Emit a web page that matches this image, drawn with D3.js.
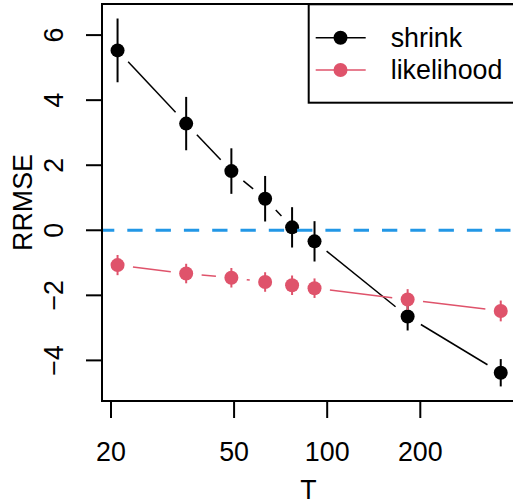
<!DOCTYPE html>
<html>
<head>
<meta charset="utf-8">
<script src="https://cdn.jsdelivr.net/npm/d3@7"></script>
<style>
  body { margin: 0; background: #fff; }
  svg text { font-family: "Liberation Sans", Arial, Helvetica, sans-serif; }
</style>
</head>
<body>
<svg id="chart"></svg>
<script>
const WIDTH = 513, HEIGHT = 504;

// data
const sampleSizes = [21, 35, 49, 63, 77, 91, 182, 364];
const shrinkValues = [5.53, 3.28, 1.82, 0.97, 0.09, -0.34, -2.65, -4.38];
const shrinkErrors = [0.98, 0.82, 0.70, 0.70, 0.62, 0.62, 0.43, 0.42];
const likelihoodValues = [-1.07, -1.33, -1.46, -1.59, -1.69, -1.78, -2.13, -2.48];
const likelihoodErrors = [0.31, 0.30, 0.30, 0.30, 0.30, 0.30, 0.32, 0.32];
const xTicks = [20, 50, 100, 200];
const yTicks = [-4, -2, 0, 2, 4, 6];
const seriesNames = ["shrink", "likelihood"];
const seriesColors = ["#000000", "#DF536B"];

const box = { left: 102, top: 4, right: 515, bottom: 401 };
const fontSize = 26.8;

const svg = d3.select("svg#chart")
    .attr("width", WIDTH)
    .attr("height", HEIGHT);

const x = d3.scaleLog().domain([20, 200]).range([111, 420.3]);
const y = d3.scaleLinear().domain([-4, 6]).range([360.4, 35.1]);

const plot = svg.append("g").attr("id", "plot");

svg.append("clipPath").attr("id", "plotClip")
    .append("rect")
        .attr("x", box.left).attr("y", box.top)
        .attr("width", box.right - box.left)
        .attr("height", box.bottom - box.top);

const series = [
    { name: seriesNames[0], color: seriesColors[0], values: shrinkValues, errors: shrinkErrors },
    { name: seriesNames[1], color: seriesColors[1], values: likelihoodValues, errors: likelihoodErrors },
];

// R type="b" : segments with a gap around each point
const gap = 15.5;
function gappedSegments(vals) {
    const pts = sampleSizes.map((t, i) => [x(t), y(vals[i])]);
    const segs = [];
    for (let i = 0; i < pts.length - 1; i++) {
        const [x0, y0] = pts[i], [x1, y1] = pts[i + 1];
        const len = Math.hypot(x1 - x0, y1 - y0);
        if (len <= 2 * gap) continue;
        const ux = (x1 - x0) / len, uy = (y1 - y0) / len;
        segs.push([x0 + ux * gap, y0 + uy * gap, x1 - ux * gap, y1 - uy * gap]);
    }
    return segs;
}

series.forEach((s) => {
    const g = plot.append("g").attr("class", "series");
    g.selectAll("line.seg")
        .data(gappedSegments(s.values))
        .join("line")
            .attr("class", "seg")
            .attr("x1", (d) => d[0]).attr("y1", (d) => d[1])
            .attr("x2", (d) => d[2]).attr("y2", (d) => d[3])
            .attr("stroke", s.color)
            .attr("stroke-width", 1.5);
    g.selectAll("line.err")
        .data(sampleSizes)
        .join("line")
            .attr("class", "err")
            .attr("x1", (d) => x(d)).attr("x2", (d) => x(d))
            .attr("y1", (d, i) => y(s.values[i] + s.errors[i]))
            .attr("y2", (d, i) => y(s.values[i] - s.errors[i]))
            .attr("stroke", s.color)
            .attr("stroke-width", 2);
    g.selectAll("circle")
        .data(sampleSizes)
        .join("circle")
            .attr("cx", (d) => x(d))
            .attr("cy", (d, i) => y(s.values[i]))
            .attr("r", 7)
            .attr("fill", s.color);
});

// reference line at 0
plot.append("line")
    .attr("clip-path", "url(#plotClip)")
    .attr("x1", box.left).attr("x2", box.right)
    .attr("y1", y(0)).attr("y2", y(0))
    .attr("stroke", "#2297E6")
    .attr("stroke-width", 3)
    .attr("stroke-dasharray", "15.3,13")
    .attr("stroke-dashoffset", 3);

// frame
svg.append("rect")
    .attr("x", box.left).attr("y", box.top)
    .attr("width", box.right - box.left)
    .attr("height", box.bottom - box.top)
    .attr("fill", "none")
    .attr("stroke", "black")
    .attr("stroke-width", 2);

// x axis
const xAxis = svg.append("g").attr("id", "x-axis");
xAxis.selectAll("line")
    .data(xTicks)
    .join("line")
        .attr("x1", (d) => x(d)).attr("x2", (d) => x(d))
        .attr("y1", box.bottom).attr("y2", box.bottom + 17)
        .attr("stroke", "black").attr("stroke-width", 2);
xAxis.selectAll("text")
    .data(xTicks)
    .join("text")
        .attr("x", (d) => x(d))
        .attr("y", 460.5)
        .attr("text-anchor", "middle")
        .attr("font-size", fontSize)
        .text((d) => d);

// y axis
const yAxis = svg.append("g").attr("id", "y-axis");
yAxis.selectAll("line")
    .data(yTicks)
    .join("line")
        .attr("x1", box.left - 16).attr("x2", box.left)
        .attr("y1", (d) => y(d)).attr("y2", (d) => y(d))
        .attr("stroke", "black").attr("stroke-width", 2);
yAxis.selectAll("text")
    .data(yTicks)
    .join("text")
        .attr("transform", (d) => `translate(63.3, ${y(d)}) rotate(-90)`)
        .attr("text-anchor", "middle")
        .attr("font-size", fontSize)
        .text((d) => d < 0 ? "\u2212" + Math.abs(d) : d);

// axis titles
svg.append("text")
    .attr("x", (box.left + box.right) / 2)
    .attr("y", 499)
    .attr("text-anchor", "middle")
    .attr("font-size", fontSize)
    .text("T");
svg.append("text")
    .attr("transform", `translate(32, ${(box.top + box.bottom) / 2}) rotate(-90)`)
    .attr("text-anchor", "middle")
    .attr("font-size", fontSize)
    .text("RRMSE");

// legend
const legend = svg.append("g").attr("id", "legend");
legend.append("rect")
    .attr("x", 308.7).attr("y", 4.3)
    .attr("width", 220).attr("height", 98.4)
    .attr("fill", "white")
    .attr("stroke", "black")
    .attr("stroke-width", 2);
const legendRows = [37.7, 70];
series.forEach((s, i) => {
    const row = legend.append("g");
    row.append("line")
        .attr("x1", 315.7).attr("x2", 365.7)
        .attr("y1", legendRows[i]).attr("y2", legendRows[i])
        .attr("stroke", s.color).attr("stroke-width", 1.5);
    row.append("circle")
        .attr("cx", 340.5).attr("cy", legendRows[i])
        .attr("r", 7).attr("fill", s.color);
    row.append("text")
        .attr("x", 390.7).attr("y", legendRows[i] + 9.3)
        .attr("font-size", fontSize)
        .text(s.name);
});
</script>
</body>
</html>
